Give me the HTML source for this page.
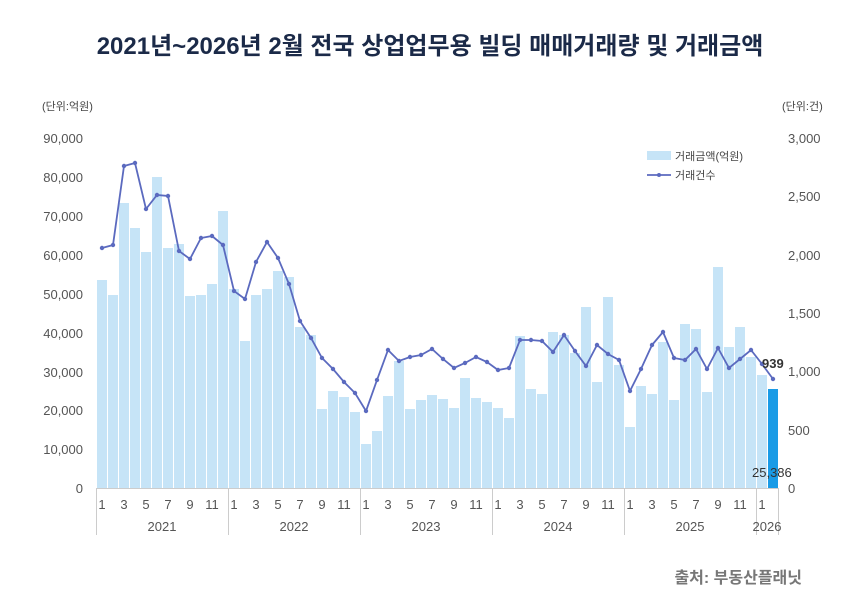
<!DOCTYPE html>
<html><head><meta charset="utf-8"><style>
body{margin:0;background:#fff;width:860px;height:607px;overflow:hidden;font-family:"Liberation Sans","Noto Sans CJK KR",sans-serif}
</style></head><body>
<svg width="860" height="607" xmlns="http://www.w3.org/2000/svg" font-family="Liberation Sans, Noto Sans CJK KR, sans-serif">
<text x="430" y="54" text-anchor="middle" font-size="24" font-weight="bold" fill="#1b2a48">2021년~2026년 2월 전국 상업업무용 빌딩 매매거래량 및 거래금액</text>
<text x="42" y="110" font-size="11" fill="#444">(단위:억원)</text>
<text x="782" y="110" font-size="11" fill="#444">(단위:건)</text>
<g font-size="13" fill="#555" text-anchor="end">
<text x="83" y="143">90,000</text><text x="83" y="182">80,000</text><text x="83" y="221">70,000</text><text x="83" y="260">60,000</text><text x="83" y="299">50,000</text><text x="83" y="338">40,000</text><text x="83" y="377">30,000</text><text x="83" y="415">20,000</text><text x="83" y="454">10,000</text><text x="83" y="493">0</text>
</g>
<g font-size="13" fill="#555">
<text x="788" y="143">3,000</text><text x="788" y="201">2,500</text><text x="788" y="260">2,000</text><text x="788" y="318">1,500</text><text x="788" y="376">1,000</text><text x="788" y="435">500</text><text x="788" y="493">0</text>
</g>
<g id="bars" fill="#c6e4f7"></g>
<line x1="96" y1="488.5" x2="778" y2="488.5" stroke="#ccc"/>
<g stroke="#ccc">
<line x1="96.5" y1="488" x2="96.5" y2="535"/><line x1="228.5" y1="488" x2="228.5" y2="535"/><line x1="360.5" y1="488" x2="360.5" y2="535"/><line x1="492.5" y1="488" x2="492.5" y2="535"/><line x1="624.5" y1="488" x2="624.5" y2="535"/><line x1="756.5" y1="488" x2="756.5" y2="535"/><line x1="778.5" y1="488" x2="778.5" y2="535"/>
</g>
<g id="mlab" font-size="13" fill="#555" text-anchor="middle"></g>
<g font-size="13" fill="#555" text-anchor="middle">
<text x="162" y="531">2021</text><text x="294" y="531">2022</text><text x="426" y="531">2023</text><text x="558" y="531">2024</text><text x="690" y="531">2025</text><text x="767" y="531">2026</text>
</g>
<polyline id="ln" fill="none" stroke="#5b6abf" stroke-width="1.8"/>
<g id="dots" fill="#5b6abf"></g>
<rect x="647" y="151" width="24" height="9" fill="#c6e4f7"/>
<text x="675" y="160" font-size="11" fill="#444">거래금액(억원)</text>
<line x1="647" y1="175" x2="671" y2="175" stroke="#5b6abf" stroke-width="1.8"/><circle cx="659" cy="175" r="2" fill="#5b6abf"/>
<text x="675" y="179" font-size="11" fill="#444">거래건수</text>
<text x="762" y="368" font-size="13" font-weight="bold" fill="#333">939</text>
<text x="752" y="477" font-size="13" fill="#333">25,386</text>
<text x="802" y="583" text-anchor="end" font-size="16" font-weight="bold" fill="#777">출처: 부동산플래닛</text>
</svg>
<script>
var bars=[280,295,203,228,252,177,248,244,296,295,284,211,289,341,295,289,271,277,327,335,409,391,397,412,444,431,396,361,409,400,395,399,408,378,398,402,408,418,336,389,394,332,335,353,307,382,297,365,427,386,394,342,400,324,329,392,267,347,327,357,375,389];
var line=[248,245,166,163,209,195,196,251,259,238,236,245,291,299,262,242,258,284,321,338,358,369,382,393,411,380,350,361,357,355,349,359,368,363,357,362,370,368,340,340,341,352,335,351,366,345,354,360,391,369,345,332,358,360,349,369,348,368,359,350,364,379];
var ns="http://www.w3.org/2000/svg",b=document.getElementById("bars"),d=document.getElementById("dots"),m=document.getElementById("mlab"),pts=[];
for(var i=0;i<62;i++){var cx=102+11*i;var r=document.createElementNS(ns,"rect");r.setAttribute("x",cx-5);r.setAttribute("y",bars[i]);r.setAttribute("width",10);r.setAttribute("height",488-bars[i]);if(i==61)r.setAttribute("fill","#1a9be6");b.appendChild(r);
pts.push(cx+","+line[i]);var c=document.createElementNS(ns,"circle");c.setAttribute("cx",cx);c.setAttribute("cy",line[i]);c.setAttribute("r",2.2);d.appendChild(c);
var mo=i%12+1;if(mo%2==1){var t=document.createElementNS(ns,"text");t.setAttribute("x",cx);t.setAttribute("y",509);t.textContent=mo;m.appendChild(t);}}
document.getElementById("ln").setAttribute("points",pts.join(" "));
</script>
</body></html>
